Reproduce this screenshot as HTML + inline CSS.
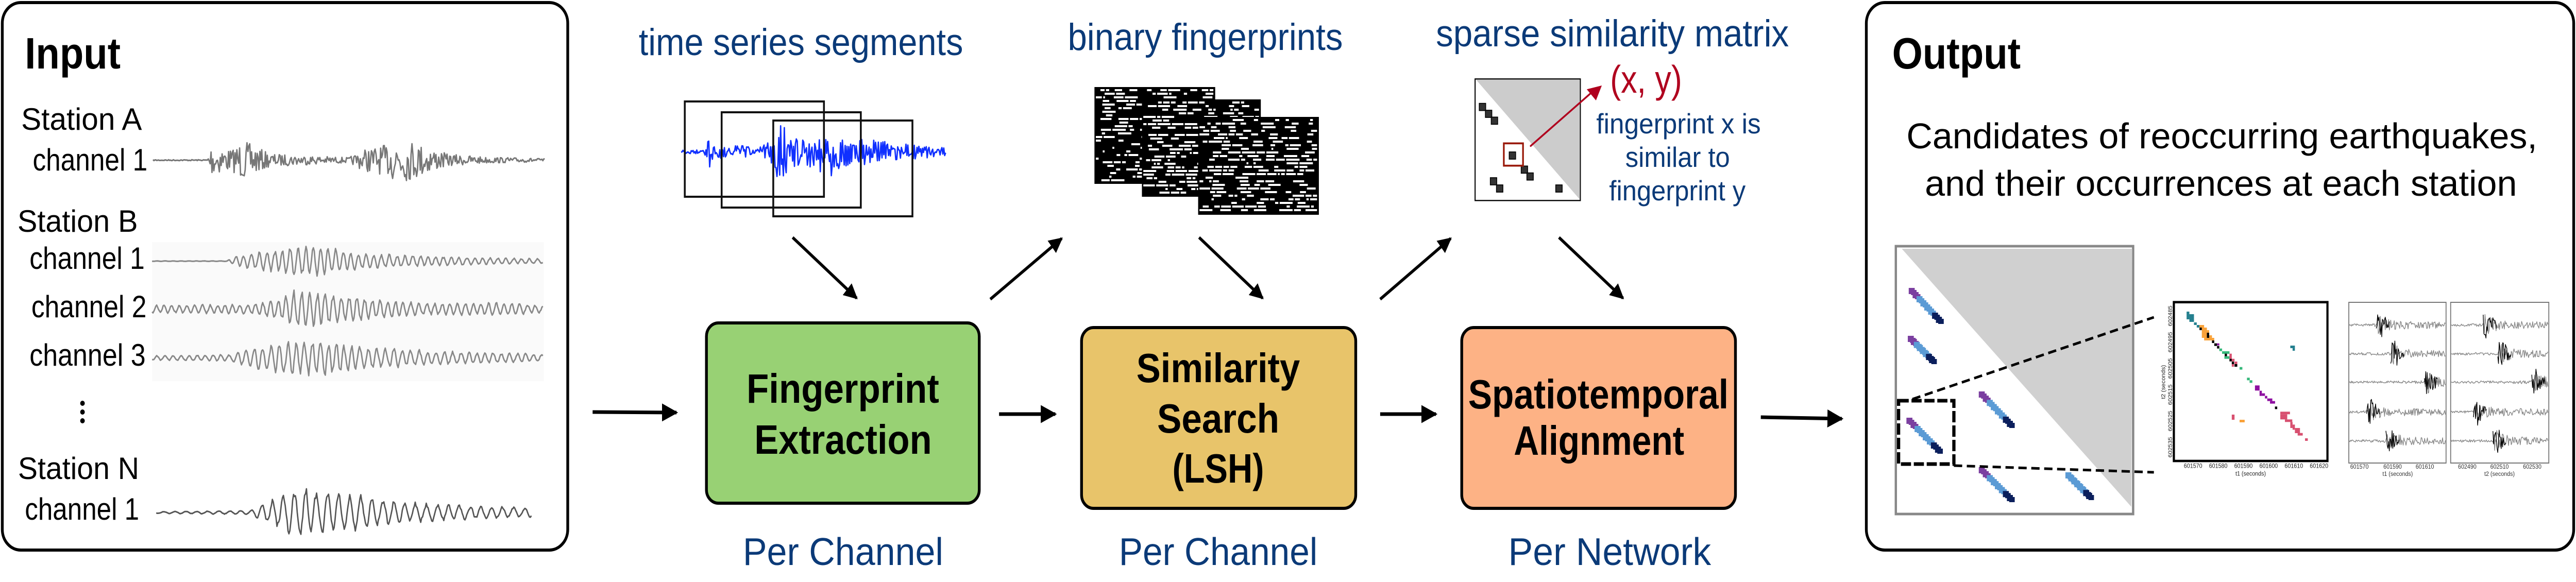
<!DOCTYPE html>
<html><head><meta charset="utf-8"><style>
html,body{margin:0;padding:0;background:#fff;overflow:hidden;width:100%;height:100%;}
#s{position:fixed;left:0;top:0;width:100vw;height:100vh;display:block;}
text{font-family:"Liberation Sans",Arial,sans-serif;}
</style></head><body>
<svg id="s" xmlns="http://www.w3.org/2000/svg" viewBox="0 0 5590 1130" preserveAspectRatio="none">
<defs>
<marker id="ah" viewBox="0 0 10 10" refX="9" refY="5" markerWidth="5" markerHeight="5" orient="auto" markerUnits="strokeWidth"><path d="M0,0 L10,5 L0,10 z" fill="#000"/></marker>
</defs>
<rect width="5590" height="1130" fill="#fff"/>

<!-- Input box -->
<rect x="5" y="5" width="1227" height="1063" rx="40" fill="#fff" stroke="#000" stroke-width="6"/>
<text x="54" y="133" font-size="85" font-weight="bold">Input</text>
<text x="46" y="252" font-size="60" textLength="262" lengthAdjust="spacingAndGlyphs">Station A</text>
<text x="71" y="331" font-size="60" textLength="249" lengthAdjust="spacingAndGlyphs">channel 1</text>
<text x="38" y="450" font-size="60" textLength="261" lengthAdjust="spacingAndGlyphs">Station B</text>
<text x="64" y="522" font-size="60" textLength="250" lengthAdjust="spacingAndGlyphs">channel 1</text>
<text x="68" y="616" font-size="60" textLength="250" lengthAdjust="spacingAndGlyphs">channel 2</text>
<text x="64" y="710" font-size="60" textLength="252" lengthAdjust="spacingAndGlyphs">channel 3</text>
<circle cx="179" cy="783" r="5"/><circle cx="179" cy="800" r="5"/><circle cx="179" cy="817" r="5"/>
<text x="39" y="930" font-size="60" textLength="263" lengthAdjust="spacingAndGlyphs">Station N</text>
<text x="54" y="1009" font-size="60" textLength="248" lengthAdjust="spacingAndGlyphs">channel 1</text>
<rect x="330" y="470" width="850" height="270" fill="#fafafa"/>
<g id="waves"></g>

<!-- top labels -->
<text x="1386" y="107" font-size="73" fill="#0b3a78" textLength="704" lengthAdjust="spacingAndGlyphs">time series segments</text>
<text x="2317" y="97" font-size="73" fill="#0b3a78" textLength="597" lengthAdjust="spacingAndGlyphs">binary fingerprints</text>
<text x="3116" y="90" font-size="73" fill="#0b3a78" textLength="766" lengthAdjust="spacingAndGlyphs">sparse similarity matrix</text>

<!-- segments -->
<g id="blue"></g>
<g fill="none" stroke="#111" stroke-width="4">
<rect x="1486" y="197" width="302" height="185"/>
<rect x="1566" y="218" width="302" height="185"/>
<rect x="1678" y="234" width="302" height="186"/>
</g>

<!-- fingerprints -->
<g id="fp"></g>

<!-- similarity matrix -->
<g transform="translate(3150,130) scale(0.33333)">
<rect x="153" y="70" width="685" height="708" fill="#fff" stroke="#000" stroke-width="7"/>
<polygon points="160,75 835,75 835,772" fill="#cccccc"/>
<g fill="#333" stroke="#000" stroke-width="5">
<rect x="180" y="212" width="42" height="42"/><rect x="220" y="252" width="42" height="42"/><rect x="258" y="292" width="42" height="42"/>
<rect x="375" y="495" width="42" height="42"/><rect x="453" y="577" width="42" height="42"/><rect x="490" y="617" width="42" height="42"/>
<rect x="252" y="645" width="42" height="42"/><rect x="292" y="687" width="42" height="42"/><rect x="678" y="687" width="42" height="42"/>
</g>
<rect x="340" y="445" width="125" height="130" fill="none" stroke="#9a1a0a" stroke-width="11"/>
<line x1="515" y1="460" x2="920" y2="142" stroke="#b0001e" stroke-width="11" stroke-linecap="round"/>
<polygon points="978,108 940,195 880,130" fill="#b0001e"/>
</g>
<text x="3494" y="180" font-size="75" fill="#b0001e" textLength="156" lengthAdjust="spacingAndGlyphs">(x, y)</text>
<text x="3464" y="259" font-size="55" fill="#0b3a78" textLength="357" lengthAdjust="spacingAndGlyphs">fingerprint x is</text>
<text x="3527" y="324" font-size="55" fill="#0b3a78" textLength="227" lengthAdjust="spacingAndGlyphs">similar to</text>
<text x="3492" y="389" font-size="55" fill="#0b3a78" textLength="296" lengthAdjust="spacingAndGlyphs">fingerprint y</text>

<!-- diagonal arrows -->
<g stroke="#000" stroke-width="6" marker-end="url(#ah)">
<line x1="1720" y1="461" x2="1859" y2="579"/>
<line x1="2149" y1="581" x2="2304" y2="463"/>
<line x1="2602" y1="461" x2="2740" y2="579"/>
<line x1="2995" y1="581" x2="3148" y2="463"/>
<line x1="3383" y1="461" x2="3522" y2="579"/>
</g>
<!-- horizontal arrows -->
<g stroke="#000" stroke-width="7" marker-end="url(#ah)">
<line x1="1286" y1="800" x2="1468" y2="801"/>
<line x1="2168" y1="804" x2="2290" y2="804"/>
<line x1="2995" y1="804" x2="3116" y2="804"/>
<line x1="3821" y1="810" x2="3997" y2="813"/>
</g>

<!-- process boxes -->
<rect x="1533" y="627" width="592" height="350" rx="26" fill="#98d174" stroke="#000" stroke-width="6"/>
<text x="1620" y="782" font-size="80" font-weight="bold" textLength="418" lengthAdjust="spacingAndGlyphs">Fingerprint</text>
<text x="1637" y="881" font-size="80" font-weight="bold" textLength="385" lengthAdjust="spacingAndGlyphs">Extraction</text>

<rect x="2347" y="636" width="595" height="351" rx="26" fill="#e8c46a" stroke="#000" stroke-width="6"/>
<text x="2466" y="742" font-size="80" font-weight="bold" textLength="355" lengthAdjust="spacingAndGlyphs">Similarity</text>
<text x="2511" y="840" font-size="80" font-weight="bold" textLength="265" lengthAdjust="spacingAndGlyphs">Search</text>
<text x="2544" y="937" font-size="80" font-weight="bold" textLength="199" lengthAdjust="spacingAndGlyphs">(LSH)</text>

<rect x="3172" y="636" width="594" height="351" rx="26" fill="#fdb285" stroke="#000" stroke-width="6"/>
<text x="3186" y="793" font-size="80" font-weight="bold" textLength="565" lengthAdjust="spacingAndGlyphs">Spatiotemporal</text>
<text x="3285" y="883" font-size="80" font-weight="bold" textLength="370" lengthAdjust="spacingAndGlyphs">Alignment</text>

<text x="1612" y="1097" font-size="75" fill="#0b3a78" textLength="435" lengthAdjust="spacingAndGlyphs">Per Channel</text>
<text x="2428" y="1097" font-size="75" fill="#0b3a78" textLength="431" lengthAdjust="spacingAndGlyphs">Per Channel</text>
<text x="3273" y="1097" font-size="75" fill="#0b3a78" textLength="440" lengthAdjust="spacingAndGlyphs">Per Network</text>

<!-- Output box -->
<rect x="4050" y="5" width="1535" height="1063" rx="40" fill="#fff" stroke="#000" stroke-width="6"/>
<text x="4106" y="133" font-size="85" font-weight="bold" textLength="279" lengthAdjust="spacingAndGlyphs">Output</text>
<text x="4137" y="288" font-size="70" textLength="1369" lengthAdjust="spacingAndGlyphs">Candidates of reoccurring earthquakes,</text>
<text x="4177" y="380" font-size="70" textLength="1285" lengthAdjust="spacingAndGlyphs">and their occurrences at each station</text>

<rect x="4114" y="478" width="515" height="520" fill="#fff" stroke="#888" stroke-width="5"/>
<polygon points="4127,483 4627,483 4625,984" fill="#d0d0d0"/>
<g id="streaks"></g>
<rect x="4120" y="778" width="120" height="123" fill="none" stroke="#000" stroke-width="7" stroke-dasharray="22 6"/>
<g stroke="#000" stroke-width="5" stroke-dasharray="18 10" fill="none">
<line x1="4150" y1="775" x2="4674" y2="616"/>
<line x1="4240" y1="904" x2="4674" y2="917"/>
</g>

<!-- zoom plot -->
<g transform="translate(4680,570) scale(0.33333)">
<rect x="112" y="50" width="1000" height="925" fill="#fff" stroke="#000" stroke-width="14"/>
<g fill="#25808f">
<rect x="195" y="105" width="18" height="45"/><rect x="213" y="120" width="30" height="45"/><rect x="243" y="168" width="18" height="15"/><rect x="261" y="183" width="18" height="15"/><rect x="870" y="303" width="30" height="15"/><rect x="885" y="318" width="15" height="15"/></g>
<g fill="#f9a23a">
<rect x="279" y="183" width="30" height="15"/><rect x="294" y="198" width="33" height="60"/><rect x="327" y="213" width="15" height="30"/><rect x="342" y="243" width="18" height="15"/><rect x="309" y="258" width="66" height="15"/><rect x="540" y="735" width="33" height="15"/></g>
<g fill="#8e0fa0">
<rect x="393" y="290" width="15" height="12"/><rect x="640" y="535" width="30" height="30"/><rect x="670" y="566" width="15" height="30"/><rect x="685" y="581" width="20" height="15"/><rect x="705" y="596" width="15" height="15"/><rect x="720" y="611" width="33" height="15"/><rect x="738" y="626" width="33" height="15"/></g>
<g fill="#35b87a">
<rect x="408" y="320" width="18" height="15"/><rect x="426" y="336" width="48" height="15"/><rect x="441" y="365" width="33" height="15"/><rect x="540" y="428" width="18" height="15"/><rect x="588" y="490" width="18" height="15"/><rect x="605" y="505" width="18" height="15"/></g>
<g fill="#d85070">
<rect x="474" y="350" width="15" height="30"/><rect x="489" y="380" width="18" height="15"/><rect x="507" y="396" width="18" height="15"/><rect x="489" y="411" width="15" height="15"/><rect x="489" y="705" width="18" height="30"/><rect x="805" y="688" width="63" height="15"/><rect x="805" y="703" width="45" height="30"/><rect x="835" y="733" width="48" height="15"/><rect x="870" y="748" width="15" height="35"/><rect x="885" y="763" width="15" height="30"/><rect x="900" y="783" width="33" height="30"/><rect x="918" y="812" width="33" height="15"/><rect x="966" y="843" width="18" height="15"/></g>
<g fill="#000">
<rect x="279" y="198" width="15" height="15"/><rect x="327" y="228" width="15" height="30"/><rect x="360" y="273" width="15" height="15"/><rect x="375" y="290" width="18" height="15"/><rect x="393" y="305" width="15" height="15"/><rect x="443" y="350" width="15" height="15"/><rect x="474" y="380" width="15" height="15"/><rect x="489" y="396" width="15" height="15"/><rect x="507" y="411" width="18" height="15"/><rect x="770" y="658" width="15" height="15"/></g>
<g font-size="36" fill="#222">
<text x="237" y="1015" text-anchor="middle">601570</text><text x="401" y="1015" text-anchor="middle">601580</text><text x="565" y="1015" text-anchor="middle">601590</text><text x="729" y="1015" text-anchor="middle">601600</text><text x="893" y="1015" text-anchor="middle">601610</text><text x="1057" y="1015" text-anchor="middle">601620</text>
<text x="612" y="1060" text-anchor="middle">t1 (seconds)</text>
<g transform="translate(100,0) rotate(-90)">
<text x="-130" y="0" text-anchor="middle">602485</text><text x="-283" y="0" text-anchor="middle">602495</text><text x="-436" y="0" text-anchor="middle">602505</text><text x="-589" y="0" text-anchor="middle">602515</text><text x="-742" y="0" text-anchor="middle">602525</text><text x="-895" y="0" text-anchor="middle">602535</text>
</g>
<text transform="translate(55,515) rotate(-90)" text-anchor="middle">t2 (seconds)</text>
</g>
</g>

<!-- waveform panels -->
<rect x="5097" y="587" width="211" height="312" fill="#fff" stroke="#777" stroke-width="2"/>
<rect x="5318" y="587" width="213" height="312" fill="#fff" stroke="#777" stroke-width="2"/>
<g id="owaves"></g>
<g font-size="12" fill="#333" text-anchor="middle">
<text x="5120" y="910">601570</text><text x="5192" y="910">601590</text><text x="5262" y="910">601610</text>
<text x="5203" y="924">t1 (seconds)</text>
<text x="5354" y="910">602490</text><text x="5424" y="910">602510</text><text x="5495" y="910">602530</text>
<text x="5424" y="924">t2 (seconds)</text>
</g>
</svg>
<script>
(function(){
var NS="http://www.w3.org/2000/svg";
var seed=7;function r(){seed=(seed*16807)%2147483647;return seed/2147483647;}
function env(pts,t){for(var i=1;i<pts.length;i++){if(t<=pts[i][0]){var a=pts[i-1],b=pts[i];var u=(t-a[0])/((b[0]-a[0])||1);return a[1]+(b[1]-a[1])*u;}}return pts[pts.length-1][1];}
function el(tag,attrs,parent){var e=document.createElementNS(NS,tag);for(var k in attrs)e.setAttribute(k,attrs[k]);parent.appendChild(e);return e;}
function wave(g,x0,x1,cy,pts,period,color,w,step){var d="";var ph=0;for(var x=x0;x<=x1;x+=step){var t=(x-x0)/(x1-x0);var a=env(pts,t);var v;if(period){ph+=2*Math.PI*step/(period*(0.8+0.4*r()));v=a*Math.sin(ph)*(0.6+0.4*r());}else{v=a*(r()*2-1);}d+=(d?"L":"M")+x.toFixed(1)+" "+(cy+v).toFixed(1);}el("path",{d:d,fill:"none",stroke:color,"stroke-width":w,"stroke-linejoin":"round"},g);}
var W=document.getElementById("waves");
wave(W,332,1183,311,[[0,1],[0.14,1],[0.145,30],[0.2,20],[0.23,38],[0.3,12],[0.5,5],[0.54,22],[0.6,30],[0.62,45],[0.66,38],[0.75,12],[0.85,6],[1,3]],0,"#777",3,2);
wave(W,330,1179,507,[[0,0.5],[0.19,0.5],[0.22,12],[0.35,28],[0.42,34],[0.5,20],[0.6,14],[0.8,8],[1,5]],17,"#888",3,2);
wave(W,330,1179,600,[[0,8],[0.25,10],[0.33,22],[0.36,38],[0.43,35],[0.55,22],[0.7,12],[0.9,14],[1,7]],17,"#888",3,2);
wave(W,330,1179,695,[[0,5],[0.2,7],[0.25,20],[0.36,36],[0.43,38],[0.55,22],[0.75,14],[1,8]],18,"#888",3,2);
wave(W,339,1154,995,[[0,2],[0.25,4],[0.3,25],[0.38,52],[0.5,40],[0.65,22],[0.8,15],[1,10]],24,"#555",3,2);
var B=document.getElementById("blue");
wave(B,1478,2052,295,[[0,3],[0.09,4],[0.1,38],[0.13,12],[0.3,12],[0.34,20],[0.36,55],[0.4,45],[0.45,22],[0.52,35],[0.55,55],[0.6,30],[0.7,25],[0.85,15],[1,8]],0,"#1030ff",3,2);
var F=document.getElementById("fp");
[[2375,169,262,188],[2478,193,258,189],[2600,227,262,190]].forEach(function(b){
 el("rect",{x:b[0],y:b[1],width:b[2],height:b[3],fill:"#000"},F);
 var d="";
 for(var y=b[1]+4;y<b[1]+b[3]-6;y+=7){var x=b[0]+3;while(x<b[0]+b[2]-10){if(r()<0.35){var w=4+Math.floor(r()*26);w=Math.min(w,b[0]+b[2]-4-x);d+="M"+x+" "+y+"h"+w+"v4h"+(-w)+"z";x+=w+3;}else{x+=6+Math.floor(r()*14);}}}
 el("path",{d:d,fill:"#fff"},F);
});
var S=document.getElementById("streaks");
[[4142,559,4213,627],[4140,652,4198,705],[4294,760,4367,829],[4137,811,4211,879],[4294,907,4367,973],[4482,917,4539,969]].forEach(function(s){
 var n=8;for(var i=0;i<n;i++){var x=s[0]+(s[2]-s[0]-12)*i/(n-1),y=s[1]+(s[3]-s[1]-12)*i/(n-1);var c=i<2?"#7b3fa0":(i<6?"#5b9bd5":"#0b1f5c");if(s[0]>4470){c=i<6?"#5b9bd5":"#0b1f5c";}el("rect",{x:x.toFixed(1),y:y.toFixed(1),width:13,height:12,fill:c},S);el("rect",{x:(x+5).toFixed(1),y:(y+4).toFixed(1),width:12,height:10,fill:c},S);}
});
var O=document.getElementById("owaves");
var ys=[631,687,742,800,856];
[[5098,5307],[5319,5530]].forEach(function(p,j){
 ys.forEach(function(y,i){
  var c=[0.3,0.45,0.8,0.2,0.4][i]+(j?0.05:0);
  wave(O,p[0],p[1],y,[[0,2],[c-0.02,3],[c,25],[c+0.06,14],[c+0.2,8],[1,6]],0,"#888",1.5,1.5);
  wave(O,p[0]+(p[1]-p[0])*(c-0.02),p[0]+(p[1]-p[0])*(c+0.12),y,[[0,20],[0.3,28],[1,6]],0,"#000",1.5,1.5);
 });
});
})();
</script>
</body></html>
